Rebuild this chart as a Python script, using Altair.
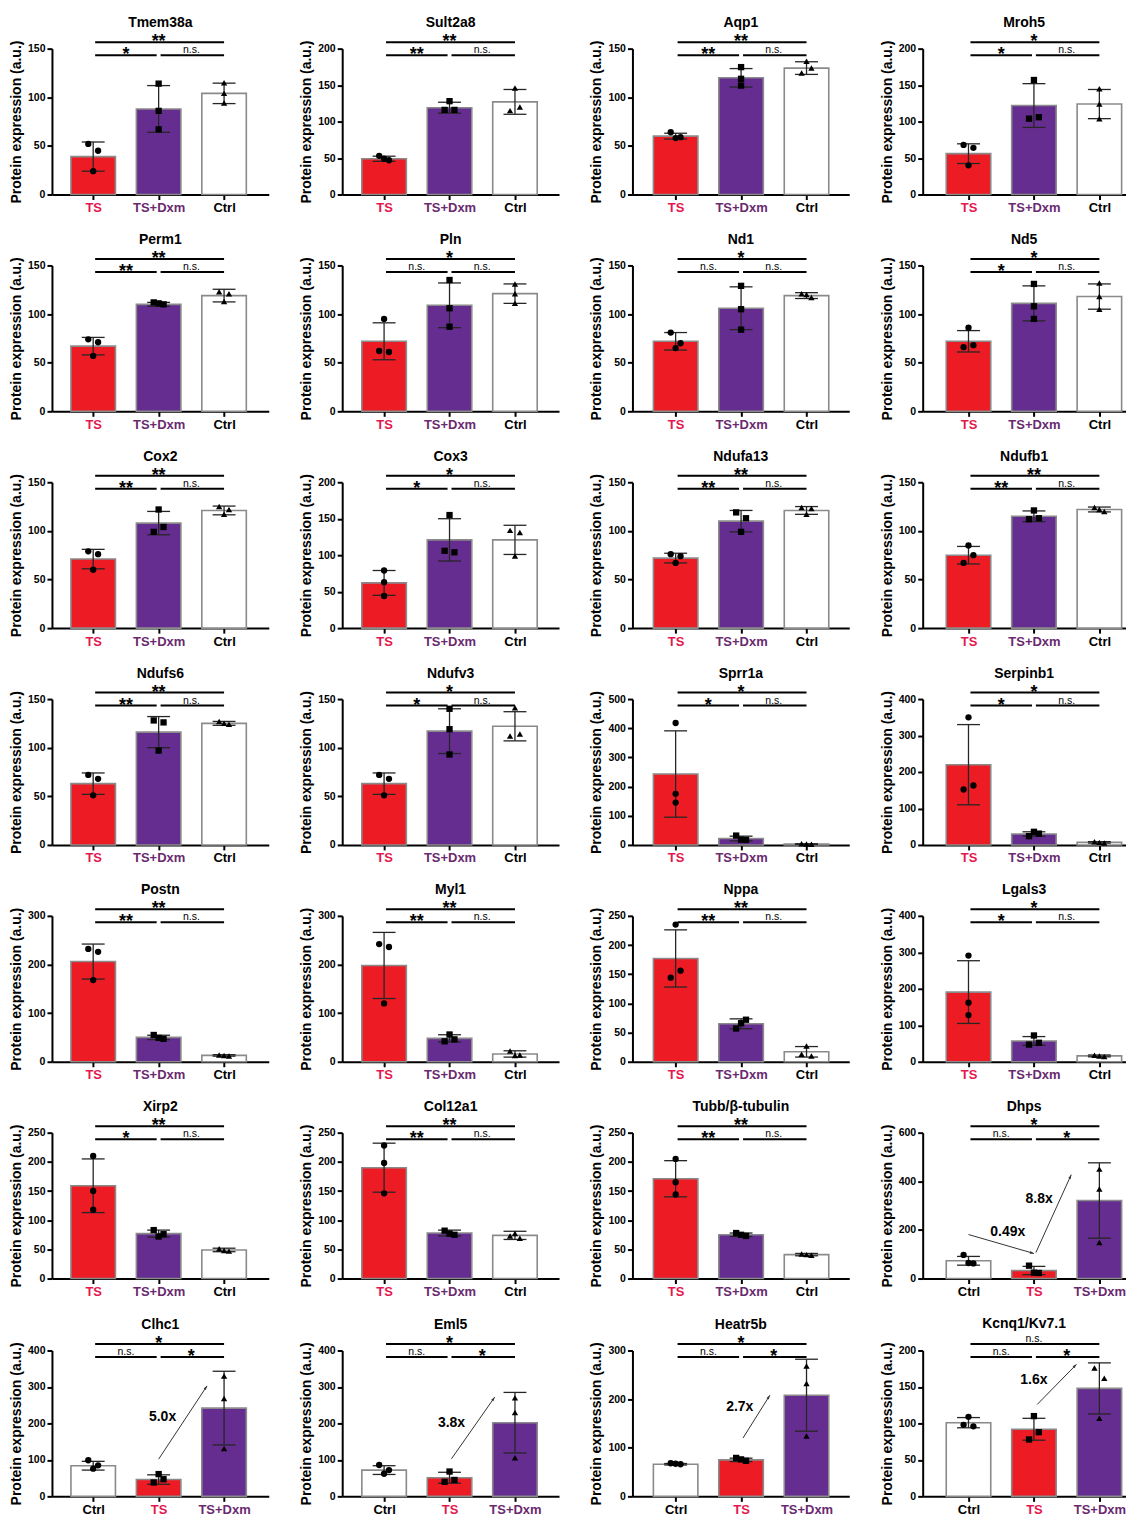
import math
import altair as alt
import pandas as pd

# ---------------- data ----------------
GENES = ["Tmem38a", "Sult2a8", "Aqp1", "Mroh5",
         "Perm1", "Pln", "Nd1", "Nd5",
         "Cox2", "Cox3", "Ndufa13", "Ndufb1",
         "Ndufs6", "Ndufv3", "Sprr1a", "Serpinb1",
         "Postn", "Myl1", "Nppa", "Lgals3",
         "Xirp2", "Col12a1", "Tubb/β-tubulin", "Dhps",
         "Clhc1", "Eml5", "Heatr5b", "Kcnq1/Kv7.1"]
ORDER_A = ["TS", "TS+Dxm", "Ctrl"]
ORDER_B = ["Ctrl", "TS", "TS+Dxm"]
ORDERS = ["A"] * 23 + ["B"] * 5
Y_MAX = [150, 200, 150, 200, 150, 150, 150, 150, 150, 200, 150, 150, 150, 150,
         500, 400, 300, 300, 250, 400, 250, 250, 250, 600, 400, 400, 300, 200]
Y_STEP = [50, 50, 50, 50, 50, 50, 50, 50, 50, 50, 50, 50, 50, 50,
          100, 100, 100, 100, 50, 100, 50, 50, 50, 200, 100, 100, 100, 50]
MEANS = [[39, 88, 104], [49, 119, 127], [60, 120, 130], [56, 122, 124],
         [67, 110, 119], [72, 109, 121], [72, 106, 119], [72, 111, 118],
         [71, 108, 121], [62, 121, 121], [72, 110, 121], [75, 115, 122],
         [63, 116, 125], [63, 117, 122], [243, 22, 3], [220, 30, 7],
         [206, 50, 13], [198, 48, 16], [177, 65, 17], [191, 57, 16],
         [159, 77, 49], [190, 78, 74], [171, 75, 41], [73, 33, 321],
         [84, 46, 242], [72, 51, 202], [66, 75, 208], [101, 92, 148]]
SDS = [[15, 24, 10.5], [3.5, 7.5, 17], [3, 9.5, 6.5], [13.5, 30, 20],
       [9, 2, 6.5], [19, 23, 10], [9, 22, 3], [11, 18, 13],
       [10, 12, 4.5], [17, 29, 20], [5, 11, 4], [9, 5.5, 2.5],
       [11, 16, 2], [11, 23, 15], [148, 8, 1], [110, 6, 2],
       [36, 4.5, 1.5], [68, 7.5, 6.5], [49, 8.5, 9], [86, 12, 2.5],
       [46, 6, 3], [42, 5, 7], [31, 3, 2], [18, 17, 155],
       [12, 13, 101], [12, 15, 83], [1.5, 3.5, 74], [7, 15, 35]]
POINTS = [[[52, 45, 24], [114, 86, 67], [115, 104, 94]],
          [[53, 49, 47], [128, 116, 116], [146, 120, 115]],
          [[64, 59, 58], [131, 119, 112], [137, 130, 125]],
          [[68, 64, 40], [157, 106, 104], [145, 124, 104]],
          [[74, 71, 57], [112, 111, 110], [123, 121, 113]],
          [[95, 62, 61], [135, 106, 87], [131, 121, 111]],
          [[81, 70, 65], [129, 105, 84], [121, 120, 117]],
          [[86, 68, 66], [131, 108, 95], [132, 118, 105]],
          [[79, 76, 60], [122, 104, 99], [125, 122, 117]],
          [[79, 63, 44], [155, 106, 104], [134, 131, 99]],
          [[76, 74, 67], [119, 113, 99], [124, 123, 117]],
          [[85, 75, 67], [121, 113, 112], [124, 122, 120]],
          [[72, 68, 51], [128, 126, 97], [127, 125, 124]],
          [[72, 68, 51], [140, 119, 93], [141, 114, 112]],
          [[418, 175, 145], [32, 18, 17], [4, 3, 2]],
          [[350, 163, 152], [36, 31, 24], [9, 7, 5]],
          [[232, 226, 168], [55, 49, 47], [14, 13, 12]],
          [[242, 236, 120], [56, 46, 42], [22, 14, 13]],
          [[235, 156, 144], [72, 66, 57], [27, 13, 10]],
          [[291, 162, 128], [72, 52, 47], [18, 16, 14]],
          [[210, 150, 118], [83, 76, 72], [51, 48, 47]],
          [[228, 198, 146], [82, 77, 75], [77, 73, 69]],
          [[205, 165, 144], [78, 75, 73], [42, 41, 40]],
          [[97, 64, 62], [53, 24, 23], [450, 368, 148]],
          [[99, 85, 76], [61, 47, 38], [330, 268, 131]],
          [[86, 72, 62], [68, 45, 40], [270, 230, 106]],
          [[68, 67, 66], [79, 76, 73], [268, 232, 124]],
          [[109, 98, 96], [110, 88, 78], [176, 162, 107]]]
JITTER = [[[-1, 1, 0], [0, 0, 0], [0, 0, 0]],
          [[-1, 0, 1], [0, -1, 1], [0, 1, -1]],
          [[-1, 1, 0], [0, 0, 0], [0, 1, -1]],
          [[-1, 1, 0], [0, 1, -1], [0, 0, 0]],
          [[-1, 1, 0], [-1, 0, 1], [-1, 1, 0]],
          [[0, -1, 1], [0, 0, 0], [0, 0, 0]],
          [[-1, 1, 0], [0, 0, 0], [-1, 0, 1]],
          [[0, 1, -1], [0, 0, 0], [0, 0, 0]],
          [[-1, 1, 0], [0, 1, -1], [-1, 1, 0]],
          [[0, 0, 0], [0, -1, 1], [-1, 1, 0]],
          [[-1, 1, 0], [-1, 1, 0], [-1, 1, 0]],
          [[0, 1, -1], [0, 1, -1], [-1, 0, 1]],
          [[-1, 1, 0], [-1, 1, 0], [-1, 0, 1]],
          [[-1, 1, 0], [0, 0, 0], [0, 1, -1]],
          [[0, 0, 0], [-1, 0, 1], [-1, 0, 1]],
          [[0, 1, -1], [0, 1, -1], [-1, 0, 1]],
          [[-1, 1, 0], [-1, 0, 1], [-1, 0, 1]],
          [[-1, 1, 0], [0, 1, -1], [-1, 1, 0]],
          [[0, 1, -1], [1, 0, -1], [0, -1, 1]],
          [[0, 0, 0], [0, 1, -1], [-1, 0, 1]],
          [[0, 0, 0], [-1, 1, 0], [-1, 0, 1]],
          [[0, 0, 0], [-1, 0, 1], [0, -1, 1]],
          [[0, 0, 0], [-1, 0, 1], [-1, 0, 1]],
          [[-1, 0, 1], [-1, 0, 1], [0, 0, 0]],
          [[-1, 1, 0], [0, 1, -1], [0, 0, 0]],
          [[-1, 1, 0], [0, 1, -1], [0, 0, 0]],
          [[-1, 0, 1], [-1, 0, 1], [0, 0, 0]],
          [[0, -1, 1], [0, 1, -1], [-1, 1, 0]]]
SIG = [["**", "*", "n.s."], ["**", "**", "n.s."], ["**", "**", "n.s."], ["*", "*", "n.s."],
       ["**", "**", "n.s."], ["*", "n.s.", "n.s."], ["*", "n.s.", "n.s."], ["*", "*", "n.s."],
       ["**", "**", "n.s."], ["*", "*", "n.s."], ["**", "**", "n.s."], ["**", "**", "n.s."],
       ["**", "**", "n.s."], ["*", "*", "n.s."], ["*", "*", "n.s."], ["*", "*", "n.s."],
       ["**", "**", "n.s."], ["**", "**", "n.s."], ["**", "**", "n.s."], ["*", "*", "n.s."],
       ["**", "*", "n.s."], ["**", "**", "n.s."], ["**", "**", "n.s."], ["*", "n.s.", "*"],
       ["*", "n.s.", "*"], ["*", "n.s.", "*"], ["*", "n.s.", "*"], ["n.s.", "n.s.", "*"]]
# fold-change arrows: [x_start, y_start, x_end, y_end] (x in group-index units)
ARROWS = {"Dhps": [[0.0, 181, 1.0, 103], [1.03, 107, 1.57, 427]],
          "Clhc1": [[1.0, 102, 1.74, 303]],
          "Eml5": [[1.03, 103, 1.69, 272]],
          "Heatr5b": [[1.03, 120, 1.44, 208]],
          "Kcnq1/Kv7.1": [[1.05, 126, 1.65, 181]]}
FOLDS = {"Dhps": [[0.6, 193, "0.49x"], [1.08, 329, "8.8x"]],
         "Clhc1": [[1.06, 217, "5.0x"]],
         "Eml5": [[1.03, 201, "3.8x"]],
         "Heatr5b": [[0.98, 184, "2.7x"]],
         "Kcnq1/Kv7.1": [[1.0, 160, "1.6x"]]}

# ---------------- styling / layout ----------------
FONT = "Liberation Sans"
PLOT_H = 146
KX = 65.5                              # px per group step
COL_W = [217, 217, 217, 203]           # plot width of each column
COL_XMIN = [-0.63, -0.64, -0.66, -0.70]
BAR_HALF = 0.34
CAP_HALF = 0.175
JIT_STEP = 0.075
BR_TOP = 1 + 6.5 / PLOT_H
BR_LOW = 1 - 6.5 / PLOT_H
FILL = {"TS": "#ED1C24", "TS+Dxm": "#662D91", "Ctrl": "#FFFFFF"}
LABEL_COLOR = {"TS": "#E4174E", "TS+Dxm": "#6A2A6F", "Ctrl": "#000000"}
SLOTS = ["a", "b", "c"]
SHAPES = ["circle", "square", "triangle-up"]
HEAD = "M0,0L-0.5,1.5L0.5,1.5Z"


def panel(i):
    gene = GENES[i]
    col = i % 4
    order = ORDER_A if ORDERS[i] == "A" else ORDER_B
    ymax = Y_MAX[i]
    width = COL_W[col]
    xmin = COL_XMIN[col]
    xmax = xmin + width / KX
    xs = alt.Scale(domain=[xmin, xmax], nice=False, zero=False)
    ys = alt.Scale(domain=[0, ymax], nice=False)
    label_expr = "[" + ",".join("'%s'" % g for g in order) + "][datum.value]"
    label_color = {"condition": [{"test": "datum.value === %d" % k, "value": LABEL_COLOR[g]}
                                 for k, g in enumerate(order) if g != "Ctrl"],
                   "value": "#000000"}
    xa = alt.Axis(values=[0, 1, 2], labelExpr=label_expr, title=None, grid=False,
                  labelColor=label_color, labelFontSize=13, labelFontWeight="bold",
                  labelPadding=2, tickSize=5, tickWidth=2, domainWidth=2,
                  labelOverlap=False, labelFlush=False)
    ya = alt.Axis(values=list(range(0, ymax + 1, Y_STEP[i])), title="Protein expression (a.u.)",
                  grid=False, labelFontSize=10.5, labelFontWeight="bold", labelPadding=2,
                  tickSize=5, tickWidth=2, domainWidth=2, titleFontSize=14,
                  titleFontWeight="bold", titlePadding=4, labelOverlap=False)

    def X(f):
        return alt.X(f, type="quantitative", scale=xs, axis=xa)

    def Y(f):
        return alt.Y(f, type="quantitative", scale=ys, axis=ya)

    bars_df = pd.DataFrame({"pos": [0, 1, 2], "group": order,
                            "mean": MEANS[i], "sd": SDS[i]})
    base = alt.Chart(bars_df).transform_calculate(
        l="datum.pos - %f" % BAR_HALF, r="datum.pos + %f" % BAR_HALF,
        lo="datum.mean - datum.sd", hi="datum.mean + datum.sd",
        cl="datum.pos - %f" % CAP_HALF, cr="datum.pos + %f" % CAP_HALF)
    bars = base.mark_bar(stroke="#8a8a8a", strokeWidth=1.6).encode(
        x=X("l"), x2="r", y=Y("mean"), y2=alt.datum(0),
        fill=alt.Fill("group:N", scale=alt.Scale(domain=order, range=[FILL[g] for g in order]),
                      legend=None))
    err = base.mark_rule(color="#262626", strokeWidth=1.3).encode(x=X("pos"), y=Y("lo"), y2="hi")
    cap_hi = base.mark_rule(color="#262626", strokeWidth=1.3).encode(x=X("cl"), x2="cr", y=Y("hi"))
    cap_lo = base.mark_rule(color="#262626", strokeWidth=1.3).encode(x=X("cl"), x2="cr", y=Y("lo"))

    rows = []
    for k in range(3):
        for v, j in zip(POINTS[i][k], JITTER[i][k]):
            rows.append({"pos": k, "value": v, "jit": j, "slot": SLOTS[k]})
    pts = alt.Chart(pd.DataFrame(rows)).transform_calculate(
        px="datum.pos + datum.jit * %f" % JIT_STEP
    ).mark_point(filled=True, color="black", opacity=1, size=40).encode(
        x=X("px"), y=Y("value"),
        shape=alt.Shape("slot:N", scale=alt.Scale(domain=SLOTS, range=SHAPES), legend=None))

    sig = SIG[i]
    br_df = pd.DataFrame({
        "x1": [0.03, 0.03, 1.03], "x2": [2.0, 0.97, 2.0],
        "y": [ymax * BR_TOP, ymax * BR_LOW, ymax * BR_LOW],
        "lx": [1.0, 0.5, 1.5], "label": sig})
    br_rules = alt.Chart(br_df).mark_rule(color="black", strokeWidth=2).encode(
        x=X("x1"), x2="x2", y=Y("y"))
    br_star = alt.Chart(br_df).transform_filter("datum.label !== 'n.s.'").mark_text(
        font=FONT, fontSize=18, fontWeight="bold", baseline="alphabetic", dy=5, color="black"
    ).encode(x=X("lx"), y=Y("y"), text="label:N")
    br_ns = alt.Chart(br_df).transform_filter("datum.label === 'n.s.'").mark_text(
        font=FONT, fontSize=10.5, baseline="alphabetic", dy=-2, color="black"
    ).encode(x=X("lx"), y=Y("y"), text="label:N")

    layers = [bars, err, cap_hi, cap_lo, pts, br_rules, br_star, br_ns]

    if gene in ARROWS:
        ky = PLOT_H / ymax
        arr = []
        for x1, y1, x2, y2 in ARROWS[gene]:
            ang = math.degrees(math.atan2((x2 - x1) * KX, (y2 - y1) * ky)) % 360
            arr.append({"x1": x1, "y1": y1, "x2": x2, "y2": y2, "ang": ang})
        arr_df = pd.DataFrame(arr)
        a_line = alt.Chart(arr_df).mark_rule(color="#333333", strokeWidth=1).encode(
            x=X("x1"), y=Y("y1"), x2="x2", y2="y2")
        a_head = alt.Chart(arr_df).mark_point(shape=HEAD, filled=True, color="#333333",
                                              opacity=1, size=30).encode(
            x=X("x2"), y=Y("y2"), angle=alt.Angle("ang:Q", scale=None))
        fold_df = pd.DataFrame(FOLDS[gene], columns=["x", "y", "t"])
        a_text = alt.Chart(fold_df).mark_text(font=FONT, fontSize=14, fontWeight="bold",
                                              baseline="middle", color="black").encode(
            x=X("x"), y=Y("y"), text="t:N")
        layers += [a_line, a_head, a_text]

    return alt.layer(*layers).properties(
        width=width, height=PLOT_H,
        title=alt.TitleParams(text=gene, font=FONT, fontSize=14, fontWeight="bold",
                              anchor="middle", frame="group", offset=3, color="black"))


chart = alt.concat(*[panel(i) for i in range(len(GENES))], columns=4, align="each",
                   spacing={"row": 18, "column": 30.5}).properties(
    padding={"left": 1, "top": 7, "right": 0, "bottom": 0}
).configure_view(stroke=None).configure_axis(
    labelFont=FONT, titleFont=FONT, domainColor="black", tickColor="black",
    labelColor="black", titleColor="black")

chart.save("out.html", embed_options={"renderer": "svg", "actions": False})
